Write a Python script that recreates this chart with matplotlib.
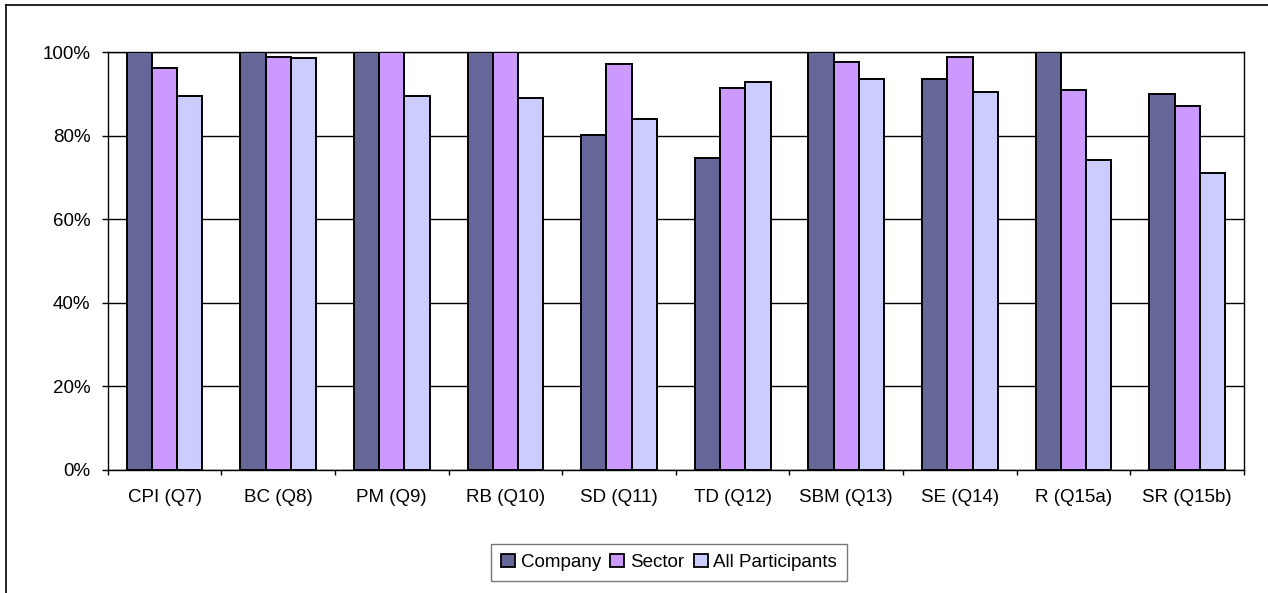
import matplotlib
matplotlib.use('Agg')
import matplotlib.pyplot as plt
import matplotlib.patches as mpatches
from matplotlib.lines import Line2D
from matplotlib.ticker import FuncFormatter, FixedLocator
import numpy as np

plt.rcParams['font.family'] = ['Liberation Sans', 'DejaVu Sans']

# ── Data ──────────────────────────────────────────────────────────────────────
categories = ["CPI (Q7)", "BC (Q8)", "PM (Q9)", "RB (Q10)", "SD (Q11)",
              "TD (Q12)", "SBM (Q13)", "SE (Q14)", "R (Q15a)", "SR (Q15b)"]
company      = [100.0, 100.0, 100.0, 100.0, 80.1, 74.7, 100.0, 93.6, 100.0, 89.9]
sector       = [96.3, 98.9, 100.0, 100.0, 97.3, 91.4, 97.7, 98.9, 90.9, 87.2]
participants = [89.5, 98.6, 89.5, 89.1, 84.1, 92.8, 93.6, 90.5, 74.2, 71.0]

series_names = ["Company", "Sector", "All Participants"]
series_colors = ["#666699", "#CC99FF", "#CCCCFF"]

# ── Figure ─────────────────────────────────────────────────────────────────────
W, H = 1268, 593
fig = plt.figure(figsize=(W / 100, H / 100), dpi=100, facecolor="white")
ax = fig.add_axes([107.7 / W, 1 - 470 / H, (1244 - 107.7) / W, (470 - 52.3) / H])

x = np.arange(len(categories))
bw = 0.222
for i, (vals, col) in enumerate(zip([company, sector, participants], series_colors)):
    ax.bar(x + (i - 1) * bw, vals, width=bw, color=col, edgecolor="black",
           linewidth=1.4, zorder=3, label=series_names[i])

ax.set_xlim(-0.5, len(categories) - 0.5)
ax.set_ylim(0, 100)

# gridlines
ax.yaxis.grid(True, color="black", linewidth=1.0, zorder=0)
ax.set_axisbelow(True)

for s in ax.spines.values():
    s.set_color("black")
    s.set_linewidth(1.0)

ax.set_yticks([0, 20, 40, 60, 80, 100])
ax.yaxis.set_major_formatter(FuncFormatter(lambda v, p: f"{v:.0f}%"))
ax.tick_params(axis="y", direction="out", length=4.3, width=1.0, pad=8,
               labelsize=13.5, colors="black")

# category labels at centres, tick marks between categories
ax.set_xticks(x)
ax.set_xticklabels(categories)
ax.tick_params(axis="x", which="major", length=0, pad=14, labelsize=13.5)
ax.xaxis.set_minor_locator(FixedLocator(np.arange(-0.5, len(categories), 1.0)))
ax.tick_params(axis="x", which="minor", direction="out", length=3.6, width=1.0)

# legend
handles = [mpatches.Patch(facecolor=c, edgecolor="black", linewidth=1.3)
           for c in series_colors]
leg = fig.legend(handles, series_names, loc="center",
                 bbox_to_anchor=(669 / W, 1 - 562.5 / H), ncol=3,
                 fontsize=13.5, frameon=True, fancybox=False,
                 handlelength=0.75, handleheight=0.72, handletextpad=0.3,
                 columnspacing=0.5, borderpad=0.55, borderaxespad=0)
leg.get_frame().set_edgecolor("#555555")
leg.get_frame().set_linewidth(1.0)

# outer chart border (left and top edges visible)
fig.add_artist(Line2D([6 / W, 6 / W], [0, 1 - 5 / H], transform=fig.transFigure,
                      color="black", linewidth=1.2))
fig.add_artist(Line2D([6 / W, 1], [1 - 5 / H, 1 - 5 / H], transform=fig.transFigure,
                      color="black", linewidth=1.2))

fig.savefig("out.png", dpi=100, facecolor="white")
